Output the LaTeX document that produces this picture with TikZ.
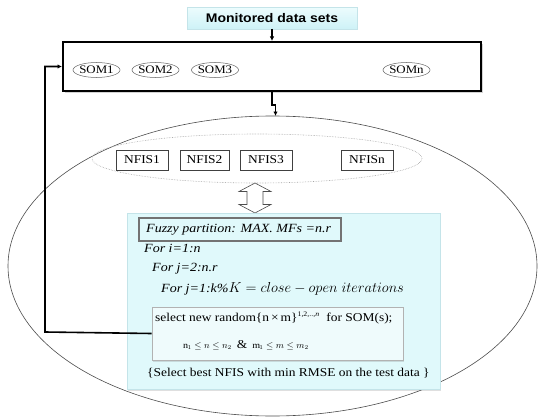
\documentclass[tikz,border=0pt]{standalone}
\usepackage{fontspec}
\setmainfont[FakeStretch=1.12]{Liberation Serif}
\setsansfont[FakeStretch=1.12]{Liberation Sans}
\usetikzlibrary{arrows.meta,shapes.geometric,shadows}
\definecolor{cyanfill}{RGB}{224,249,251}
\definecolor{cyanedge}{RGB}{196,228,233}
\definecolor{topfillA}{RGB}{236,252,253}
\definecolor{topfillB}{RGB}{206,242,247}
\definecolor{selfill}{RGB}{239,251,252}
\tikzset{
  conn/.style={line width=1.5pt, -{Latex[length=4.5pt,width=4.5pt]}},
  loopline/.style={line width=1.6pt, -{Latex[length=4.5pt,width=4.5pt]}},
  topbox/.style={draw=cyanedge, top color=topfillA, bottom color=topfillB, minimum width=170pt, minimum height=21.5pt, inner sep=0pt,
    font=\sffamily\bfseries\fontsize{12.5}{15}\selectfont},
  mainbox/.style={draw=black, line width=2pt, fill=white, minimum width=418pt, minimum height=49pt, inner sep=0pt,
    drop shadow={shadow xshift=2pt, shadow yshift=-2pt, opacity=0.35}},
  somtxt/.style={inner sep=0pt, font=\fontsize{11.5}{14}\selectfont},
  somring/.style={draw=black!60, line width=0.5pt},
  bigring/.style={draw=black!70, line width=0.6pt, ellipse, minimum width=529pt, minimum height=300pt, inner sep=0pt, outer sep=0pt},
  nfisring/.style={draw=black!35, densely dotted, line width=0.6pt, ellipse, minimum width=330pt, minimum height=49pt, inner sep=0pt},
  nfisbox/.style={draw=black!75, line width=0.6pt, fill=white, minimum width=52pt, minimum height=20pt, inner sep=0pt,
    font=\fontsize{12}{14}\selectfont, drop shadow={shadow xshift=1pt, shadow yshift=-1pt, opacity=0.25}},
  hollowarrow/.style={draw=black!70, line width=0.6pt, fill=white},
  cyanbox/.style={draw=cyanedge, fill=cyanfill, line width=0.5pt, minimum width=313pt, minimum height=176pt, inner sep=0pt,
    drop shadow={shadow xshift=1pt, shadow yshift=-1.5pt, opacity=0.25}},
  fuzzybox/.style={draw=black, double=black!55, double distance=1.5pt, line width=0.5pt, fill=cyanfill, minimum width=202pt, minimum height=23pt, inner sep=0pt},
  selbox/.style={draw=black!30, fill=selfill, line width=0.6pt, minimum width=251pt, minimum height=53pt, inner sep=0pt,
    drop shadow={shadow xshift=1pt, shadow yshift=-1.5pt, opacity=0.25}},
  itline/.style={anchor=west, inner sep=0pt, font=\itshape\fontsize{12.5}{14}\selectfont},
  rmline/.style={anchor=west, inner sep=0pt, font=\fontsize{12}{14}\selectfont}
}
\begin{document}
\begin{tikzpicture}[x=1pt,y=-1pt]
\useasboundingbox (0,0) rectangle (538,420);

% big outer ellipse
\node[bigring] (big) at (272.5,266) {};

% top label and SOM box
\node[topbox] (top) at (272,18) {Monitored data sets};
\node[mainbox] (main) at (272,66.5) {};

\node[somtxt] (som1) at (96.5,70) {SOM1};
\node[somtxt] (som2) at (155.5,70) {SOM2};
\node[somtxt] (som3) at (215,70) {SOM3};
\node[somtxt] (somn) at (406.5,70) {SOMn};
\foreach \s in {som1,som2,som3,somn}
  \draw[somring] (\s.center) ellipse [x radius=23.5, y radius=7.5];

% NFIS group
\node[nfisring] (ring) at (257,158.5) {};
\node[nfisbox] (nfis1) at (142,160) {NFIS1};
\node[nfisbox, minimum width=49pt] (nfis2) at (204.5,160) {NFIS2};
\node[nfisbox] (nfis3) at (266,160) {NFIS3};
\node[nfisbox] (nfisn) at (367,160) {NFISn};

% hollow up-down arrow
\draw[hollowarrow] (255,183) -- (271,191.5) -- (263,191.5) -- (263,204.5) -- (271,204.5) -- (255,213)
  -- (239,204.5) -- (247,204.5) -- (247,191.5) -- (239,191.5) -- cycle;

% algorithm box
\node[cyanbox, anchor=north west] (algo) at (127,213) {};
\node[fuzzybox] (fuzzy) at (240,229.5) {};
\node[itline] (fuzzytxt) at (146,229.5) {Fuzzy partition: MAX. MFs =n.r};
\node[itline] (fori) at (144,248) {For i=1:n};
\node[itline] (forj2) at (152,269) {For  j=2:n.r};
\node[itline] (forj1) at (161,289) {For  j=1:k\%{\upshape\fontsize{14.5}{16}\selectfont$K = close - open\ iterations$}};

\node[selbox] (sel) at (277.5,333.5) {};
\node[rmline] (seltxt) at (155,318) {select new random\{n\,×\,m\}\textsuperscript{\fontsize{7}{8}\selectfont 1,2,..,\textit{n}}\ \ for SOM(s);};
\node[rmline, font=\fontsize{9}{11}\selectfont] (range) at (183,345) {$\mathrm{n}_1 \le n \le n_2$\ \ {\fontsize{12}{14}\selectfont\&}\ \ $\mathrm{m}_1 \le m \le m_2$};
\node[rmline] (best) at (147,373) {\{Select best NFIS with min RMSE on the test data \}};

% connectors
\coordinate (lp) at (45,332);
\draw[conn] (top.south) -- (main.north);
\draw[conn] (main.south) -- ++(0,13) -| ([xshift=3pt]big.north);
\draw[loopline] (sel.west) -- (lp) |- (main.west);
\end{tikzpicture}
\end{document}
